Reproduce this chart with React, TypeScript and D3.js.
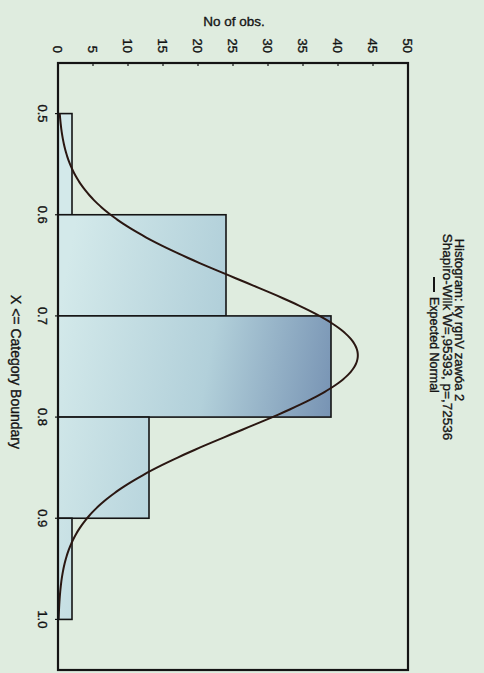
import React from 'react';
import * as d3 from 'd3';

// category boundaries (upper limits) and observed counts
const binStarts = [0.5, 0.6, 0.7, 0.8, 0.9];
const binWidth = 0.1;
const counts = [2, 24, 39, 13, 2];
const countTicks = [0, 5, 10, 15, 20, 25, 30, 35, 40, 45, 50];
const boundaryTicks = [0.5, 0.6, 0.7, 0.8, 0.9, 1.0];
// expected normal fit
const fitMean = 0.739;
const fitSd = 0.0745;

const titleLines = ['Histogram: ky rgnV zawóa 2', 'Shapiro-Wilk W=,95393, p=,72536'];

// the chart is drawn upright (673 wide, 484 tall) then turned 90deg clockwise
const W = 673;
const H = 484;
const FONT = '"Liberation Sans", Arial, sans-serif';
const INK = '#141414';

export default function App() {
  const x = d3.scaleLinear().domain([0.45, 1.05]).range([63, 670]);
  const y = d3.scaleLinear().domain([0, 50]).range([426, 76]);

  const total = d3.sum(counts);
  const normal = (v: number) =>
    (total * binWidth * Math.exp(-0.5 * ((v - fitMean) / fitSd) ** 2)) /
    (fitSd * Math.sqrt(2 * Math.PI));
  const curveX = d3.range(0.5, 1.0001, 0.0025);
  const line = d3
    .line<number>()
    .x((d) => x(d))
    .y((d) => y(normal(d)))
    .curve(d3.curveBasis);

  // slight thickening, the scan makes every glyph look heavy
  const ink = { fill: INK, stroke: INK, strokeWidth: 0.35 };

  return (
    <svg
      width={484}
      height={673}
      style={{ position: 'absolute', left: 0, top: 0, display: 'block', background: '#dfecdf' }}
    >
      <defs>
        <linearGradient
          id="barfill"
          gradientUnits="userSpaceOnUse"
          x1={x(0.7)}
          y1={y(0)}
          x2={x(0.75)}
          y2={y(40)}
        >
          <stop offset="0" stopColor="#d3e9ea" />
          <stop offset="0.55" stopColor="#b2d0da" />
          <stop offset="1" stopColor="#7894b4" />
        </linearGradient>
      </defs>
      <rect width={484} height={673} fill="#dfecdf" />
      <g transform={`translate(${H},0) rotate(90)`} fontFamily={FONT}>
        {/* title */}
        <text x={320} y={29} fontSize={13} textAnchor="middle" {...ink}>
          {titleLines[0]}
        </text>
        <text x={337} y={41} fontSize={13.5} textAnchor="middle" {...ink}>
          {titleLines[1]}
        </text>
        <line x1={277} x2={292} y1={50} y2={50} stroke={INK} strokeWidth={2} />
        <text x={297} y={54.5} fontSize={12.5} {...ink}>
          Expected Normal
        </text>

        {/* bars */}
        {counts.map((c, i) => (
          <rect
            key={i}
            x={x(binStarts[i])}
            width={x(binStarts[i] + binWidth) - x(binStarts[i])}
            y={y(c)}
            height={y(0) - y(c)}
            fill="url(#barfill)"
            stroke={INK}
            strokeWidth={1.6}
          />
        ))}

        {/* expected normal curve */}
        <path d={line(curveX) ?? ''} fill="none" stroke="#2a1712" strokeWidth={2} />

        {/* frame */}
        <rect
          x={x(0.45)}
          y={y(50)}
          width={x(1.05) - x(0.45)}
          height={y(0) - y(50)}
          fill="none"
          stroke={INK}
          strokeWidth={2.2}
        />

        {/* count axis */}
        {countTicks.map((t) => (
          <g key={t}>
            <line x1={x(0.45)} x2={x(0.45) + 3} y1={y(t)} y2={y(t)} stroke={INK} strokeWidth={1.2} />
            <text x={53} y={y(t)} dy="0.35em" fontSize={13} textAnchor="end" {...ink}>
              {t}
            </text>
          </g>
        ))}
        <text
          transform={`translate(26,${250}) rotate(-90)`}
          fontSize={13.5}
          textAnchor="middle"
          {...ink}
        >
          No of obs.
        </text>

        {/* boundary axis */}
        {boundaryTicks.map((t) => (
          <g key={t}>
            <line x1={x(t)} x2={x(t)} y1={y(0)} y2={y(0) + 3} stroke={INK} strokeWidth={1.2} />
            <text x={x(t)} y={446} fontSize={13} textAnchor="middle" {...ink}>
              {t.toFixed(1)}
            </text>
          </g>
        ))}
        <text x={372} y={473} fontSize={14} textAnchor="middle" {...ink}>
          {'X <= Category Boundary'}
        </text>
      </g>
    </svg>
  );
}
